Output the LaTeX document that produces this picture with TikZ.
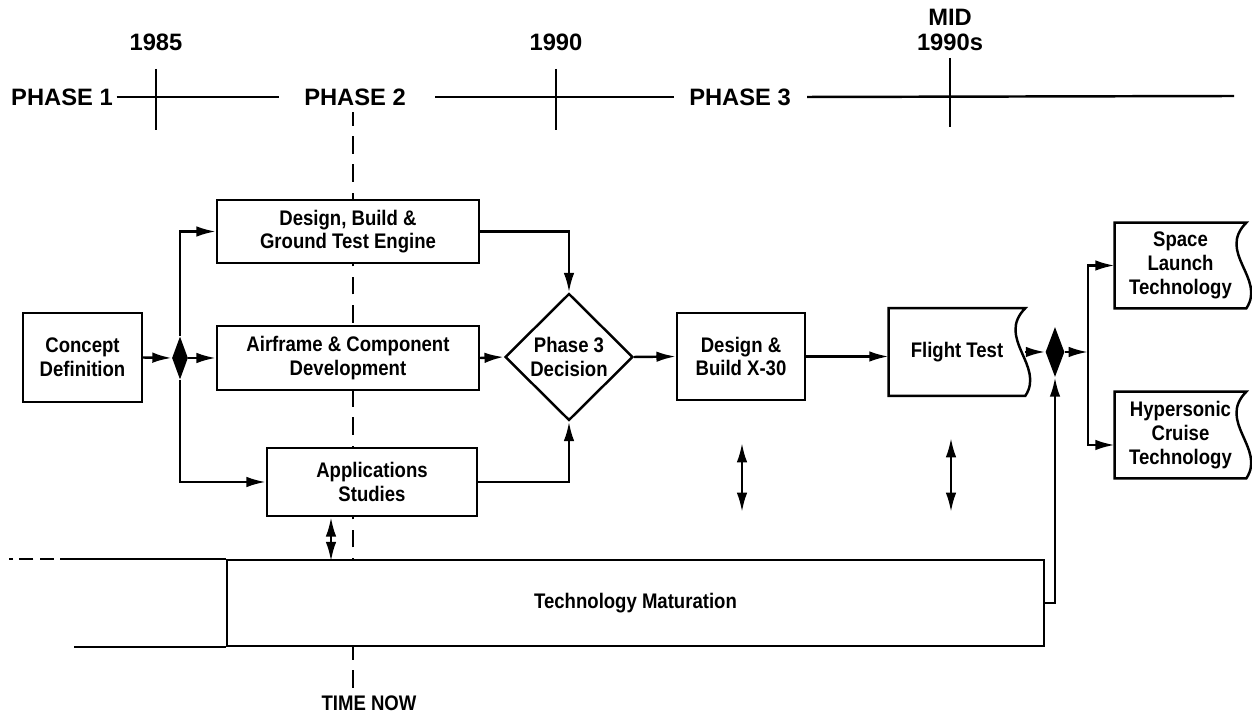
\documentclass[tikz,border=0pt]{standalone}
\usepackage{fontspec}
\setmainfont{Liberation Sans}[FakeStretch=0.88]
\newfontfamily\phasefont{Liberation Sans}
\usetikzlibrary{arrows.meta,shapes.geometric}

\newcommand{\boxfont}{\bfseries\fontsize{12}{13.5}\selectfont}
\newcommand{\axisfont}{\phasefont\bfseries\fontsize{13.5}{14}\selectfont}

\tikzset{
  box/.style={draw, fill=white, line width=1.4pt, inner sep=0pt, align=center, font=\boxfont},
  tapebox/.style={inner sep=0pt, align=center, font=\boxfont},
  axislabel/.style={font=\axisfont, inner sep=2pt, align=center},
  flow/.style={line width=1.4pt, ->},
  both/.style={line width=1.4pt, <->},
  axis/.style={line width=1.4pt},
  nowline/.style={line width=1.4pt, dash pattern=on 10pt off 6pt},
  junction/.style={diamond, fill=black, inner sep=0pt},
}

% 右边是波浪线的框
\newcommand{\tapeedge}[1]{%
  \draw[axis] (#1.south east) .. controls +(20,-30) and +(-30,30) .. (#1.north east)
    -- (#1.north west) -- (#1.south west) -- cycle;}

\begin{document}
\begin{tikzpicture}[x=0.02cm, y=-0.02cm, >={Latex[length=11pt,width=6pt]}]
        \useasboundingbox (0,0) rectangle (1252,715);

        % 绘制时间轴
        \node[axislabel] (ph1) at (62,97) {PHASE 1};
        \node[axislabel] (ph2) at (355,97) {PHASE 2};
        \node[axislabel] (ph3) at (740,97) {PHASE 3};
        \coordinate (axend) at (1234,96);
        \draw[axis] (ph1.east) -- ([xshift=-0.43cm]ph2.west);
        \draw[axis] ([xshift=0.51cm]ph2.east) -- ([xshift=-0.23cm]ph3.west);
        \draw[axis] ([xshift=0.25cm]ph3.east) -- (axend);

        % 年份刻度
        \node[axislabel] (y85) at (156,42) {1985};
        \node[axislabel] (y90) at (556,42) {1990};
        \node[axislabel] (ymid) at (950,30) {MID\\1990s};
        \draw[axis] (156,69) -- (156,130);
        \draw[axis] (556,69) -- (556,130);
        \draw[axis] (950,58) -- (950,127);

        % 当前时间的虚线
        \node[font=\boxfont] (tnow) at (369,703) {TIME NOW};
        \coordinate (nowtop) at (353,112);
        \coordinate (nowbot) at (353,688);
        \draw[nowline] (nowbot) -- (nowtop);

        % 各个方框
        \node[box, minimum width=2.38cm, minimum height=1.78cm] (concept) at (82.5,357.5) {Concept\\Definition};
        \node[box, minimum width=5.24cm, minimum height=1.26cm] (engine) at (348,231.5) {Design, Build \&\\Ground Test Engine};
        \node[box, minimum width=5.24cm, minimum height=1.28cm] (airframe) at (348,358) {Airframe \& Component\\Development};
        \node[box, minimum width=4.2cm, minimum height=1.36cm] (apps) at (372,482) {Applications\\Studies};
        \node[box, diamond, minimum width=2.56cm, minimum height=2.54cm] (decision) at (569,357) {Phase 3\\Decision};
        \node[box, minimum width=2.56cm, minimum height=1.74cm] (x30) at (741,356.5) {Design \&\\Build X-30};
        \node[tapebox, minimum width=2.72cm, minimum height=1.74cm] (flight) at (957,352) {Flight Test};
        \node[tapebox, minimum width=2.62cm, minimum height=1.7cm] (space) at (1180.5,265.5) {Space\\Launch\\Technology};
        \node[tapebox, minimum width=2.62cm, minimum height=1.72cm] (hyper) at (1180.5,435) {Hypersonic\\Cruise\\Technology};
        \tapeedge{flight}
        \tapeedge{space}
        \tapeedge{hyper}

        % 技术成熟的长条
        \node[box, minimum width=16.34cm, minimum height=1.72cm] (tech) at (635.5,603) {Technology Maturation};
        \draw[axis] (tech.north west) -- ++(-152,0) coordinate (techl);
        \draw[axis, dash pattern=on 8pt off 3.5pt] (techl) -- ++(-65,0);
        \draw[axis] (tech.south west) -- ++(-152,0);

        % 分支点
        \node[junction, minimum width=0.32cm, minimum height=0.86cm] (j1) at (180,358) {};
        \node[junction, minimum width=0.38cm, minimum height=1.0cm] (j2) at (1055,352) {};
        \coordinate (split) at (1088,352);

        % 连线
        \draw[flow] (concept.east) -- (j1.west);
        \draw[flow] (j1.east) -- (airframe.west);
        \draw[flow] (j1.north) |- (engine.west);
        \draw[flow] (j1.south) |- (apps.west);
        \draw[flow] (engine.east) -| (decision.north);
        \draw[flow] (airframe.east) -- (decision.west);
        \draw[flow] (apps.east) -| (decision.south);
        \draw[flow] (decision.east) -- (x30.west);
        \draw[flow] (x30.east) -- (x30.east -| flight.west);
        \draw[flow] (flight.east) -- (j2.west);
        \draw[flow] (j2.east) -- (split);
        \draw[flow] (split) |- (space.west);
        \draw[flow] (split) |- ([yshift=-0.2cm]hyper.west);
        \draw[flow] (tech.east) -| (j2.south);

        % 双向箭头
        \draw[both] ([xshift=-0.82cm]apps.south) -- ++(0,44);
        \coordinate (x30a) at (742,443);
        \coordinate (x30b) at (742,512);
        \coordinate (fla) at (951,438);
        \coordinate (flb) at (951,512);
        \draw[both] (x30a) -- (x30b);
        \draw[both] (fla) -- (flb);
\end{tikzpicture}
\end{document}
